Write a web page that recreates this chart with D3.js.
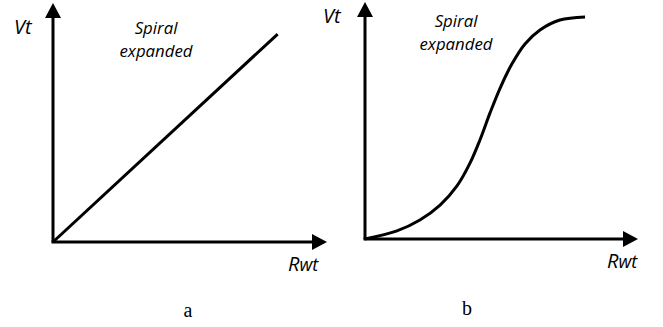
<!DOCTYPE html>
<html>
<head>
<meta charset="utf-8">
<script src="https://cdn.jsdelivr.net/npm/d3@7"></script>
<style>
  html, body { margin: 0; padding: 0; background: #fff; }
  svg { display: block; }
  .lbl { font-family: "Open Sans", sans-serif; font-style: italic; fill: #000; }
  .panel { font-family: "Liberation Serif", "Times New Roman", serif; fill: #000; }
</style>
</head>
<body>
<svg id="chart" width="663" height="327"></svg>
<script>
// Panel (a): linear response
const rwtA = [0, 82];
const vtA  = [0, 87];

// Panel (b): sigmoid response
const rwtB = [0, 11.7, 20.1, 27.5, 33.7, 38.5, 42.1, 45.8, 49.5, 53.8, 58.6, 64.1, 71.4, 80.6];
const vtB  = [0, 3.4, 8.0, 14.3, 22.4, 32.1, 41.8, 53.2, 63.7, 73.8, 82.3, 88.2, 92.4, 93.7];

const panelNames = ["a", "b"];
const yLabel = "Vt";
const xLabelMain = "R";
const xLabelSub = "wt";
const noteLines = ["Spiral", "expanded"];

const svg = d3.select("#chart");

const panels = [
  { name: panelNames[0], xs: rwtA, ys: vtA, curve: d3.curveLinear,
    x0: 53, x1: 327, y0: 242, y1: 3,
    vt: [14, 34], note: [156, 34, 57], rwt: [288, 271], nameX: 188, nameY: 317 },
  { name: panelNames[1], xs: rwtB, ys: vtB, curve: d3.curveCatmullRom.alpha(0.5),
    x0: 365, x1: 638, y0: 239, y1: 2,
    vt: [323, 23], note: [456, 27, 50], rwt: [607, 268], nameX: 467, nameY: 315 }
];

const headLen = 15, headHalf = 8;

panels.forEach(p => {
  const x = d3.scaleLinear().domain([0, 100]).range([p.x0, p.x1]);
  const y = d3.scaleLinear().domain([0, 100]).range([p.y0, p.y1]);
  const g = svg.append("g");

  // axes with arrowheads
  g.append("line")
    .attr("x1", x(0)).attr("y1", y(0))
    .attr("x2", x(0)).attr("y2", y(100) + headLen - 1)
    .attr("stroke", "#000").attr("stroke-width", 3);
  g.append("path")
    .attr("d", `M${x(0)},${y(100)} L${x(0) - headHalf},${y(100) + headLen} L${x(0) + headHalf},${y(100) + headLen} Z`)
    .attr("fill", "#000");
  g.append("line")
    .attr("x1", x(0) - 1.5).attr("y1", y(0))
    .attr("x2", x(100) - headLen + 1).attr("y2", y(0))
    .attr("stroke", "#000").attr("stroke-width", 3);
  g.append("path")
    .attr("d", `M${x(100)},${y(0)} L${x(100) - headLen},${y(0) - headHalf} L${x(100) - headLen},${y(0) + headHalf} Z`)
    .attr("fill", "#000");

  // response curve
  const pts = p.xs.map((v, i) => [v, p.ys[i]]);
  g.append("path")
    .datum(pts)
    .attr("fill", "none")
    .attr("stroke", "#000")
    .attr("stroke-width", 3)
    .attr("d", d3.line().x(d => x(d[0])).y(d => y(d[1])).curve(p.curve));

  // labels
  g.append("text").attr("class", "lbl")
    .attr("x", p.vt[0]).attr("y", p.vt[1])
    .attr("font-size", 20).text(yLabel);

  noteLines.forEach((t, i) => {
    g.append("text").attr("class", "lbl")
      .attr("x", p.note[0]).attr("y", p.note[1 + i])
      .attr("text-anchor", "middle")
      .attr("font-size", 16.8).text(t);
  });

  const rt = g.append("text").attr("class", "lbl")
    .attr("x", p.rwt[0]).attr("y", p.rwt[1]);
  rt.append("tspan").attr("font-size", 20).text(xLabelMain);
  rt.append("tspan").attr("font-size", 18).text(xLabelSub);

  g.append("text").attr("class", "panel")
    .attr("x", p.nameX).attr("y", p.nameY)
    .attr("text-anchor", "middle")
    .attr("font-size", 20).text(p.name);
});
</script>
</body>
</html>
